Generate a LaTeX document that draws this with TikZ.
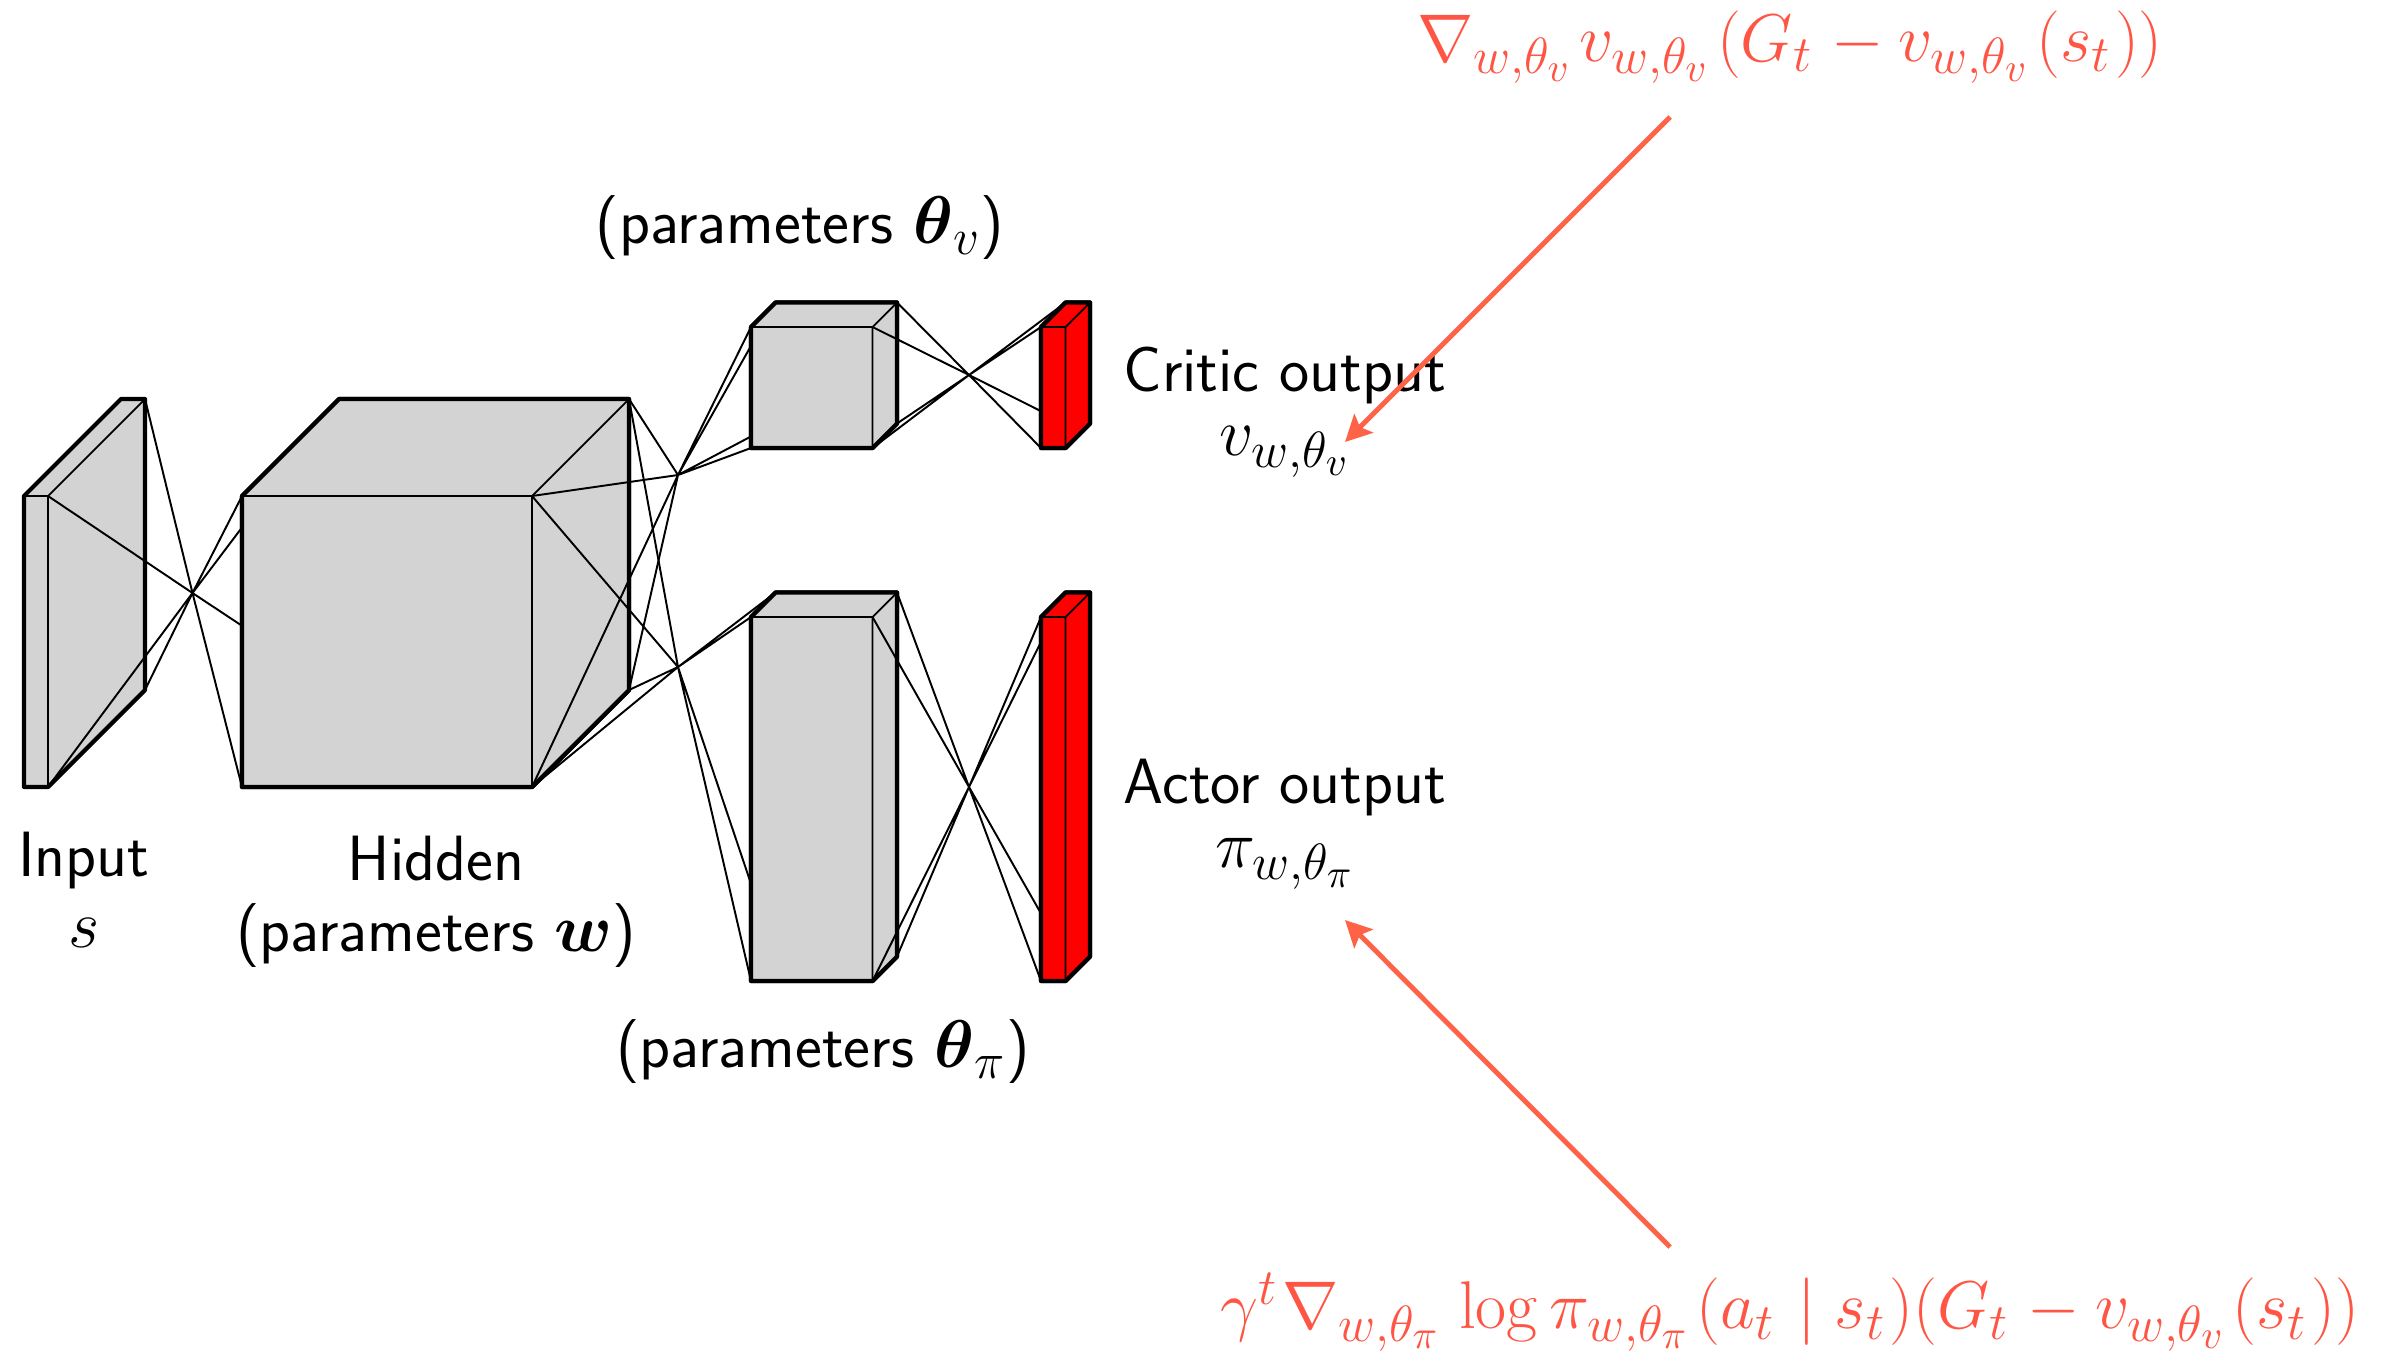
\documentclass[tikz,border=0pt]{standalone}
\usepackage{fix-cm}
\usepackage{amsmath}
\usetikzlibrary{arrows.meta,positioning,calc}
\DeclareMathSizes{18.2}{19.2}{14.5}{11.5}
\definecolor{gradred}{RGB}{255,99,71}
\definecolor{gradtext}{RGB}{255,85,68}
\definecolor{boxgray}{RGB}{211,211,211}
\newcommand{\gradfont}{\fontsize{18.2}{22}\selectfont\setlength{\scriptspace}{1.5pt}}
\newcommand{\layerbox}[7]{% name, fill, x0, x1, y0, y1, depth
  \coordinate (#1ft) at (#4,#5);
  \coordinate (#1fb) at (#4,#6);
  \coordinate (#1bt) at (#4+#7,#5-#7);
  \coordinate (#1bb) at (#4+#7,#6-#7);
  \coordinate (#1lt) at (#3,#5);
  \coordinate (#1lb) at (#3,#6);
  \coordinate (#1kt) at (#3+#7,#5-#7);
  \coordinate (#1kb) at (#3+#7,#6-#7);
  \fill[#2] (#1lt) -- (#1kt) -- (#1bt) -- (#1bb) -- (#1fb) -- (#1lb) -- cycle;
  \draw[outer] (#1lt) -- (#1kt) -- (#1bt) -- (#1bb) -- (#1fb) -- (#1lb) -- cycle;
  \draw[inner] (#1lt) -- (#1ft) -- (#1fb) (#1ft) -- (#1bt);
}
\newcommand{\fansource}[2]{% source, hub
  \draw[fan] (#1ft) -- (#2) (#1bt) -- (#2) (#1bb) -- (#2) (#1fb) -- (#2);
}
\newcommand{\fantarget}[2]{% hub, target
  \draw[fan] (#1) -- (#2lt) (#1) -- (#2lb) (#1) -- (#2kt) (#1) -- (#2kb);
}
\tikzset{
  outer/.style={draw=black,line width=1.2pt,line join=round},
  inner/.style={draw=black,line width=0.5pt},
  fan/.style={draw=black,line width=0.55pt},
  lab/.style={font=\sffamily\fontsize{18.2}{20.3}\selectfont,align=center,inner sep=0pt},
  grad/.style={font=\gradfont,text=gradtext,inner sep=0pt},
  gradarrow/.style={draw=gradred,line width=1.4pt,-{Stealth[length=7.5pt,width=7.5pt,inset=1.5pt]}}
}
\begin{document}
\begin{tikzpicture}[x=0.01cm,y=-0.01cm]
\useasboundingbox (0,0) rectangle (2383,1351);

% hubs
\coordinate (hubin) at (192.5,593);
\coordinate (hubcritic) at (678,475);
\coordinate (hubactor) at (678,667);
\coordinate (hubv) at (969,375);
\coordinate (hubpi) at (969,787);

% input and hidden
\layerbox{input}{boxgray}{24}{48}{496}{787}{97}
\fansource{input}{hubin}
\layerbox{hidden}{boxgray}{242}{532}{496}{787}{97}
\fantarget{hubin}{hidden}
\layerbox{hidden}{boxgray}{242}{532}{496}{787}{97}

% the two heads
\fansource{hidden}{hubcritic}
\fansource{hidden}{hubactor}
\layerbox{critic}{boxgray}{751}{872.5}{327}{448}{24.5}
\layerbox{actor}{boxgray}{751}{872.5}{617}{981}{24.5}
\fantarget{hubcritic}{critic}
\fantarget{hubactor}{actor}
\layerbox{critic}{boxgray}{751}{872.5}{327}{448}{24.5}
\layerbox{actor}{boxgray}{751}{872.5}{617}{981}{24.5}

% outputs
\fansource{critic}{hubv}
\fansource{actor}{hubpi}
\layerbox{vout}{red}{1041}{1065.5}{327}{448}{24.5}
\layerbox{piout}{red}{1041}{1065.5}{617}{981}{24.5}
\fantarget{hubv}{vout}
\fantarget{hubpi}{piout}
\layerbox{vout}{red}{1041}{1065.5}{327}{448}{24.5}
\layerbox{piout}{red}{1041}{1065.5}{617}{981}{24.5}

% labels
\node[lab] (inputlab) at (84,890) {Input\\$s$};
\node[lab] (hiddenlab) at (436,902) {Hidden\\(parameters $\boldsymbol{w}$)};
\node[lab] (criticlab) at (800,228) {(parameters $\boldsymbol{\theta}_v$)};
\node[lab] (actorlab) at (823,1052) {(parameters $\boldsymbol{\theta}_\pi$)};
\node[lab] (vlab) at (1285,412) {Critic output\\[-2pt]$v_{w,\theta_v}$};
\node[lab] (pilab) at (1285,824) {Actor output\\[-2pt]$\pi_{w,\theta_\pi}$};
\node[grad] (gradv) at (1790,47) {$\nabla_{w,\theta_v} v_{w,\theta_v}(G_t - v_{w,\theta_v}(s_t))$};
\node[grad] (gradpi) at (1790,1312) {$\gamma^t \nabla_{w,\theta_\pi} \log \pi_{w,\theta_\pi}(a_t \mid s_t)(G_t - v_{w,\theta_v}(s_t))$};

% arrows
\coordinate (gradvstart) at (1670,117);
\coordinate (gradvend) at (1345,442);
\coordinate (gradpistart) at (1670,1247);
\coordinate (gradpiend) at (1345,920);
\draw[gradarrow] (gradvstart) -- (gradvend);
\draw[gradarrow] (gradpistart) -- (gradpiend);
\end{tikzpicture}
\end{document}
